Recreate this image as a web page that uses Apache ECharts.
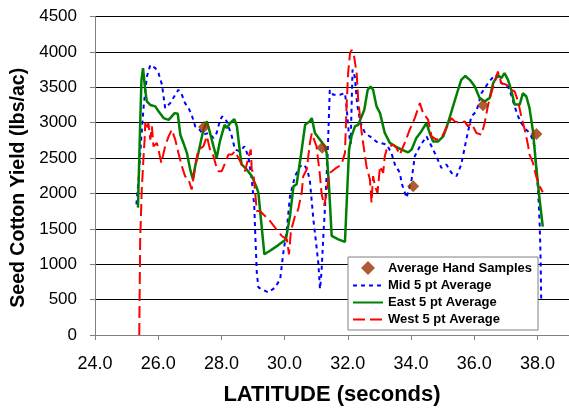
<!DOCTYPE html>
<html>
<head>
<meta charset="utf-8">
<script src="https://cdn.jsdelivr.net/npm/echarts@6/dist/echarts.min.js"></script>
<style>html,body{margin:0;padding:0;background:#fff}#c{width:569px;height:411px}</style>
</head>
<body>
<div id="c"></div>
<script>
var xTicks = [24, 26, 28, 30, 32, 34, 36, 38];
var yTicks = [0, 500, 1000, 1500, 2000, 2500, 3000, 3500, 4000, 4500];
var seriesNames = ['Average Hand Samples', 'Mid 5 pt Average', 'East 5 pt Average', 'West 5 pt Average'];

var handSamples = [[27.45,2940],[31.19,2645],[34.07,2100],[36.28,3245],[37.97,2840]];

var midAvg = [[25.31,1845],[25.38,2200],[25.46,2760],[25.54,3230],[25.64,3650],[25.75,3815],[25.91,3770],[26.01,3700],[26.12,3535],[26.22,3206],[26.38,3276],[26.54,3394],[26.64,3464],[26.75,3394],[26.85,3276],[26.96,3206],[27.06,3112],[27.17,2948],[27.27,2924],[27.43,2830],[27.59,2854],[27.75,2784],[27.85,2854],[27.96,3041],[28.03,3089],[28.17,3018],[28.33,2807],[28.43,2619],[28.59,2596],[28.73,2666],[28.85,2525],[28.96,2197],[29.04,1821],[29.07,1446],[29.12,883],[29.17,672],[29.49,601],[29.70,672],[29.86,789],[29.96,1164],[30.07,1493],[30.17,1962],[30.33,2244],[30.49,2385],[30.62,2408],[30.72,2330],[30.80,2180],[30.91,1634],[31.01,1250],[31.07,1000],[31.12,650],[31.17,900],[31.22,1350],[31.28,1820],[31.36,2525],[31.43,3460],[31.54,3394],[31.75,3394],[31.91,3417],[31.96,3230],[32.03,2860],[32.09,2700],[32.15,3750],[32.22,3650],[32.30,3250],[32.40,3000],[32.55,2850],[32.75,2790],[32.91,2730],[33.02,2715],[33.23,2690],[33.38,2572],[33.49,2408],[33.65,2290],[33.70,2150],[33.86,1939],[34.02,2197],[34.12,2525],[34.28,2666],[34.49,2806],[34.54,2830],[34.65,2666],[34.80,2525],[34.96,2361],[35.12,2408],[35.28,2291],[35.44,2244],[35.59,2408],[35.75,2760],[35.91,3089],[36.07,3159],[36.23,3417],[36.44,3558],[36.65,3675],[36.75,3652],[36.86,3558],[37.07,3511],[37.17,3394],[37.28,3229],[37.39,3089],[37.49,2995],[37.60,2924],[37.70,2877],[37.81,2807],[37.91,2666],[38.02,2056],[38.07,1587],[38.10,1118],[38.12,508]];

var eastAvg = [[25.36,1800],[25.43,3000],[25.47,3600],[25.52,3770],[25.59,3460],[25.64,3300],[25.75,3250],[25.91,3230],[26.01,3160],[26.17,3065],[26.33,3040],[26.43,3090],[26.52,3135],[26.62,3125],[26.70,2830],[26.80,2710],[26.91,2570],[27.01,2340],[27.10,2200],[27.17,2385],[27.27,2570],[27.43,2900],[27.54,3020],[27.64,2855],[27.75,2665],[27.85,2500],[27.96,2750],[28.10,2970],[28.17,2925],[28.28,2995],[28.41,3050],[28.49,2950],[28.59,2570],[28.64,2410],[28.80,2340],[28.96,2245],[29.12,2080],[29.17,2010],[29.36,1140],[29.54,1190],[29.80,1270],[30.04,1350],[30.17,1680],[30.28,2100],[30.38,2130],[30.52,2550],[30.65,2970],[30.80,3020],[30.86,3065],[30.96,2855],[31.12,2760],[31.28,2665],[31.33,2570],[31.40,2150],[31.49,1400],[31.70,1350],[31.91,1315],[31.96,1820],[32.04,2620],[32.12,2810],[32.23,2950],[32.33,2970],[32.44,3090],[32.52,3180],[32.63,3465],[32.72,3510],[32.80,3465],[32.91,3230],[33.02,3135],[33.17,2855],[33.33,2715],[33.49,2670],[33.70,2620],[33.91,2580],[34.02,2620],[34.17,2785],[34.33,2880],[34.49,2995],[34.59,2855],[34.70,2735],[34.86,2735],[35.02,2805],[35.17,2995],[35.33,3230],[35.49,3465],[35.59,3605],[35.72,3660],[35.86,3605],[36.02,3510],[36.17,3350],[36.33,3300],[36.49,3350],[36.60,3560],[36.75,3675],[36.86,3630],[36.96,3700],[37.07,3605],[37.17,3465],[37.28,3255],[37.44,3255],[37.54,3415],[37.65,3370],[37.75,3205],[37.86,2880],[37.96,2385],[38.07,1915],[38.17,1530]];

var westAvg = [[25.40,0],[25.43,1350],[25.48,2056],[25.54,2549],[25.57,2760],[25.59,2995],[25.64,2901],[25.69,2995],[25.75,2760],[25.80,2948],[25.85,2666],[25.96,2713],[26.10,2432],[26.22,2666],[26.33,2807],[26.43,2901],[26.54,2760],[26.64,2572],[26.75,2385],[26.85,2244],[26.96,2197],[27.06,2056],[27.17,2385],[27.27,2619],[27.43,2666],[27.54,2807],[27.64,2619],[27.75,2525],[27.85,2361],[27.91,2314],[28.01,2314],[28.12,2432],[28.22,2549],[28.33,2549],[28.43,2596],[28.54,2502],[28.64,2408],[28.75,2314],[28.85,2502],[28.93,2619],[28.96,2338],[29.01,2291],[29.07,2009],[29.12,1751],[29.22,1751],[29.38,1681],[29.54,1610],[29.70,1517],[29.91,1399],[30.07,1352],[30.14,1141],[30.20,1470],[30.33,1681],[30.43,1775],[30.54,2009],[30.59,2244],[30.70,2338],[30.80,2713],[30.86,2850],[30.91,2877],[31.01,2666],[31.12,2250],[31.17,2000],[31.25,1830],[31.33,2000],[31.40,2250],[31.43,2290],[31.60,2350],[31.80,2408],[31.91,2573],[31.96,3229],[32.01,3699],[32.07,3980],[32.12,4027],[32.20,3933],[32.28,3699],[32.33,3323],[32.44,2854],[32.59,2385],[32.70,2197],[32.75,1868],[32.80,2244],[32.86,2103],[32.94,2009],[33.02,2385],[33.12,2291],[33.17,2525],[33.23,2619],[33.33,2666],[33.44,2690],[33.54,2643],[33.65,2549],[33.80,2713],[33.96,2901],[34.12,3065],[34.28,3276],[34.38,3136],[34.54,3042],[34.65,2807],[34.80,2760],[34.96,2784],[35.12,2924],[35.28,3065],[35.38,3018],[35.54,2995],[35.70,3018],[35.80,2948],[35.91,2995],[36.07,2854],[36.23,2830],[36.33,2995],[36.44,3253],[36.54,3417],[36.67,3605],[36.75,3722],[36.86,3558],[37.02,3535],[37.17,3464],[37.28,3441],[37.39,3300],[37.49,3089],[37.60,2901],[37.70,2690],[37.75,2549],[37.86,2432],[37.96,2244],[38.07,2103],[38.17,2018]];

var chart = echarts.init(document.getElementById('c'), null, {renderer: 'canvas'});
var FONT = 'Liberation Sans, Arial, sans-serif';
var hiddenSymbol = {opacity: 0};
chart.setOption({
  animation: false,
  backgroundColor: '#fff',
  textStyle: {fontFamily: FONT},
  grid: {left: 95, top: 16.5, right: -1, bottom: 75, containLabel: false},
  xAxis: {
    type: 'value', min: xTicks[0], max: 39, interval: xTicks[1] - xTicks[0],
    name: 'LATITUDE (seconds)', nameLocation: 'middle', nameGap: 49,
    nameTextStyle: {fontFamily: FONT, fontSize: 22, fontWeight: 'bold', color: '#000'},
    axisLine: {onZero: false, lineStyle: {color: '#808080', width: 1}},
    axisTick: {length: 5, lineStyle: {color: '#808080'}},
    axisLabel: {fontFamily: FONT, fontSize: 18, color: '#000', margin: 20, showMaxLabel: false,
      formatter: function (v) { return xTicks.indexOf(v) >= 0 ? v.toFixed(1) : ''; }},
    splitLine: {show: false}
  },
  yAxis: {
    type: 'value', min: yTicks[0], max: yTicks[yTicks.length - 1], interval: yTicks[1] - yTicks[0],
    name: 'Seed Cotton Yield (lbs/ac)', nameLocation: 'middle', nameGap: 62, nameRotate: 90,
    nameTextStyle: {fontFamily: FONT, fontSize: 19.5, fontWeight: 'bold', color: '#000', padding: [0, 24, 0, 0]},
    axisLine: {show: true, lineStyle: {color: '#808080', width: 1}},
    axisTick: {show: true, length: 5, lineStyle: {color: '#808080'}},
    axisLabel: {fontFamily: FONT, fontSize: 17, color: '#000', margin: 18,
      formatter: function (v) { return String(v); }},
    splitLine: {show: true, lineStyle: {color: '#000', width: 1}}
  },
  legend: {
    orient: 'vertical', left: 348, top: 257,
    backgroundColor: '#fff', borderColor: '#808080', borderWidth: 1,
    padding: [4, 6, 4, 4], itemWidth: 30, itemHeight: 14, itemGap: 4,
    textStyle: {fontFamily: FONT, fontSize: 13, fontWeight: 'bold', color: '#000'},
    data: [
      {name: seriesNames[0], icon: 'path://M0,-1L1,0L0,1L-1,0Z'},
      {name: seriesNames[1], itemStyle: hiddenSymbol},
      {name: seriesNames[2], itemStyle: hiddenSymbol},
      {name: seriesNames[3], itemStyle: hiddenSymbol}
    ]
  },
  series: [
    {name: seriesNames[1], type: 'line', data: midAvg, symbol: 'none', z: 2,
      lineStyle: {color: '#0000FF', width: 2, type: [4, 4]}, itemStyle: {color: '#0000FF'}},
    {name: seriesNames[2], type: 'line', data: eastAvg, symbol: 'none', z: 3,
      lineStyle: {color: '#008000', width: 2.5, type: 'solid'}, itemStyle: {color: '#008000'}},
    {name: seriesNames[3], type: 'line', data: westAvg, symbol: 'none', z: 4,
      lineStyle: {color: '#FF0000', width: 2, type: [12, 5]}, itemStyle: {color: '#FF0000'}},
    {name: seriesNames[0], type: 'scatter', data: handSamples, symbol: 'diamond', symbolSize: 12, z: 5,
      symbolKeepAspect: true, itemStyle: {color: '#993300'}}
  ]
});
</script>
</body>
</html>
